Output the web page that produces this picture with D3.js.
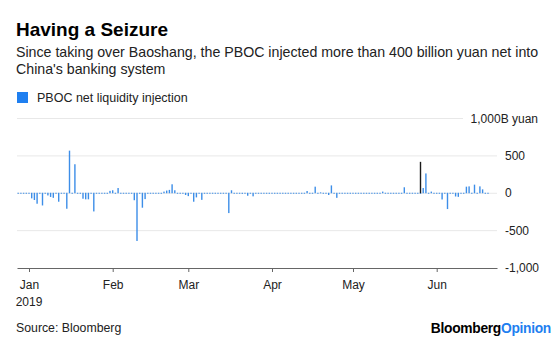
<!DOCTYPE html>
<html>
<head>
<meta charset="utf-8">
<script src="https://cdn.jsdelivr.net/npm/d3@7"></script>
<style>
  body { margin: 0; background: #fff; }
  svg { display: block; font-family: "Liberation Sans", Arial, sans-serif; }
</style>
</head>
<body>
<svg id="chart" width="560" height="341"></svg>
<script>
// PBOC net liquidity injection, billion yuan, one value per calendar day
var seriesStart = "2018-12-28";
var dec18 = [0, 0, 0, 0];
var jan19 = [0, -75, -97, -147, 0, -170, 0, -36, -56, -68,
             0, -120, 0, 0, -214, 570, 0, 388, 0, 0,
             -80, -88, -88, 0, -250, 0, 0, 0, 0, 0, 32];
var feb19 = [40, 0, 70, 0, 0, 0, 0, 0, -100, -645,
             0, -200, -85, 0, 0, 0, 0, 0, 0, 22,
             36, 45, 120, 40, 0, 0, 0, -30];
var mar19 = [-45, 0, -120, -62, 0, -95, 0, 0, 0, 0,
             0, 0, 0, 0, 0, -272, 40, 0, 0, 0,
             -15, 0, -40, 0, -48, 0, 0, 0, 0, 0, 0];
var apr19 = [0, 0, 0, 0, 0, 0, 0, 0, 0, 0,
             0, 0, 0, 30, 0, 0, 88, 0, 12, 0,
             0, -30, 105, 0, -68, 0, 0, 0, 0, 0];
var may19 = [0, 0, 0, 0, 0, 0, 0, 0, 0, 0,
             0, 22, 0, 0, 0, 0, 0, 0, 0, 80,
             0, 0, 0, 0, 0, 0, 70, 265, 0, 22, 0];
var jun19 = [0, 0, -90, 0, -218, 0, 0, -50, -55, 0,
             0, 88, 92, 0, 115, 0, 92, 52, 0, 0];

// the day Baoshang was taken over, drawn in black
var highlightDates = ["2019-05-26"];
var highlightValues = [420];

var monthTicks = ["2019-01-01", "2019-02-01", "2019-03-01", "2019-04-01", "2019-05-01", "2019-06-01"];
var monthLabels = ["Jan", "Feb", "Mar", "Apr", "May", "Jun"];
var yTicks = [1000, 500, 0, -500, -1000];
var yTickLabels = ["1,000B yuan", "500", "0", "-500", "-1,000"];

var parseDate = d3.timeParse("%Y-%m-%d");
var values = [].concat(dec18, jan19, feb19, mar19, apr19, may19, jun19);
var data = values.map(function(v, i) {
  return { date: d3.timeDay.offset(parseDate(seriesStart), i), value: v };
});
var highlights = highlightDates.map(function(d, i) {
  return { date: parseDate(d), value: highlightValues[i] };
});

var svg = d3.select("#chart");
var plotLeft = 17, plotRight = 497, plotTop = 118.5, plotBottom = 268;

var x = d3.scaleTime()
    .domain([new Date(2018, 11, 27, 13, 20), new Date(2019, 5, 23, 8)])
    .range([plotLeft, plotRight]);
var y = d3.scaleLinear()
    .domain([-1000, 1000])
    .range([plotBottom, plotTop]);

// titles
svg.append("text").attr("x", 16).attr("y", 35.5)
    .attr("textLength", 152).attr("lengthAdjust", "spacingAndGlyphs")
    .style("font-size", "18.5px").style("font-weight", "bold").attr("fill", "#000")
    .text("Having a Seizure");
svg.append("text").attr("x", 16).attr("y", 57)
    .style("font-size", "14.2px").attr("fill", "#222")
    .text("Since taking over Baoshang, the PBOC injected more than 400 billion yuan net into");
svg.append("text").attr("x", 16).attr("y", 73.5)
    .style("font-size", "14.2px").attr("fill", "#222")
    .text("China's banking system");

// legend
svg.append("rect").attr("x", 17).attr("y", 92).attr("width", 11).attr("height", 11)
    .attr("fill", "#1f7ff0");
svg.append("text").attr("x", 37).attr("y", 101.5)
    .style("font-size", "12.5px").attr("fill", "#222")
    .text("PBOC net liquidity injection");

// grid
svg.append("g").selectAll("line")
    .data(yTicks.filter(function(d) { return d > -1000; }))
  .enter().append("line")
    .attr("x1", plotLeft)
    .attr("x2", function(d) { return d === 1000 ? 463 : plotRight; })
    .attr("y1", function(d) { return y(d); })
    .attr("y2", function(d) { return y(d); })
    .attr("stroke", "#e8e8e8").attr("stroke-width", 1);

// y labels on the right
svg.append("g").selectAll("text")
    .data(yTicks)
  .enter().append("text")
    .attr("x", function(d) { return d === 1000 ? 538 : 505; })
    .attr("y", function(d) { return y(d); })
    .attr("dy", "0.35em")
    .attr("text-anchor", function(d) { return d === 1000 ? "end" : "start"; })
    .style("font-size", "12px").attr("fill", "#222")
    .text(function(d, i) { return yTickLabels[i]; });

// bars
var barW = 1.4;
svg.append("g").selectAll("rect")
    .data(data)
  .enter().append("rect")
    .attr("x", function(d) { return x(d.date) - barW / 2; })
    .attr("y", function(d) { return d.value > 0 ? y(d.value) : y(0) - 0.5; })
    .attr("width", barW)
    .attr("height", function(d) { return Math.max(1, Math.abs(y(d.value) - y(0))); })
    .attr("fill", "#3d8ee8");

svg.append("g").selectAll("rect")
    .data(highlights)
  .enter().append("rect")
    .attr("x", function(d) { return x(d.date) - barW / 2; })
    .attr("y", function(d) { return y(d.value); })
    .attr("width", barW)
    .attr("height", function(d) { return y(0) - y(d.value); })
    .attr("fill", "#1a1a1a");

// x axis
var xAxis = svg.append("g")
    .attr("transform", "translate(0," + plotBottom + ")")
    .call(d3.axisBottom(x)
      .tickValues(monthTicks.map(parseDate))
      .tickSize(4)
      .tickSizeOuter(0)
      .tickFormat(function(d, i) { return monthLabels[i]; }));
xAxis.select(".domain").attr("stroke", "#666").attr("stroke-width", 1.2);
xAxis.selectAll(".tick line").attr("stroke", "#666");
xAxis.selectAll(".tick text")
    .attr("y", 21).attr("dy", 0)
    .style("font-size", "12px").style("font-family", "Liberation Sans, Arial, sans-serif")
    .attr("fill", "#222");
svg.append("text").attr("x", x(parseDate(monthTicks[0]))).attr("y", 306)
    .attr("text-anchor", "middle")
    .style("font-size", "12px").attr("fill", "#222")
    .text("2019");

// footer
svg.append("text").attr("x", 16).attr("y", 332)
    .style("font-size", "12.3px").attr("fill", "#222")
    .text("Source: Bloomberg");
var brand = svg.append("text").attr("x", 551).attr("y", 333)
    .attr("text-anchor", "end")
    .style("font-size", "13.8px").style("font-weight", "bold").style("letter-spacing", "-0.3px");
brand.append("tspan").attr("fill", "#000").text("Bloomberg");
brand.append("tspan").attr("fill", "#1f7ff0").text("Opinion");
</script>
</body>
</html>
